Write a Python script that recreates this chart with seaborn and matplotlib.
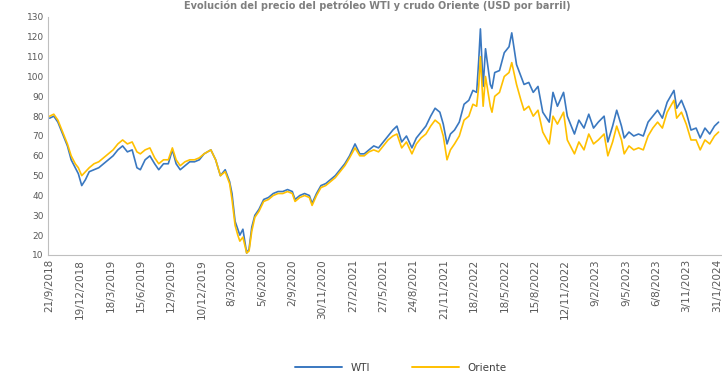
import matplotlib
matplotlib.use("Agg")
import matplotlib.pyplot as plt
import seaborn as sns
import pandas as pd

dates = [
    "2018-09-21", "2018-10-03", "2018-10-15", "2018-10-29", "2018-11-12", "2018-11-23",
    "2018-12-05", "2018-12-14", "2018-12-24", "2019-01-04", "2019-01-15", "2019-01-29",
    "2019-02-12", "2019-02-26", "2019-03-12", "2019-03-26", "2019-04-09", "2019-04-23",
    "2019-05-07", "2019-05-21", "2019-06-04", "2019-06-14", "2019-06-28", "2019-07-12",
    "2019-07-26", "2019-08-07", "2019-08-21", "2019-09-04", "2019-09-16", "2019-09-27",
    "2019-10-09", "2019-10-23", "2019-11-06", "2019-11-20", "2019-12-04", "2019-12-18",
    "2020-01-07", "2020-01-21", "2020-02-04", "2020-02-18", "2020-03-02", "2020-03-09",
    "2020-03-18", "2020-03-26", "2020-04-01", "2020-04-10", "2020-04-21", "2020-04-28",
    "2020-05-06", "2020-05-15", "2020-05-27", "2020-06-10", "2020-06-24", "2020-07-08",
    "2020-07-22", "2020-08-05", "2020-08-19", "2020-09-02", "2020-09-10", "2020-09-24",
    "2020-10-08", "2020-10-22", "2020-10-30", "2020-11-12", "2020-11-25", "2020-12-09",
    "2020-12-23", "2021-01-06", "2021-01-20", "2021-02-03", "2021-02-17", "2021-03-05",
    "2021-03-19", "2021-04-01", "2021-04-15", "2021-04-29", "2021-05-13", "2021-05-27",
    "2021-06-10", "2021-06-24", "2021-07-06", "2021-07-20", "2021-08-03", "2021-08-19",
    "2021-09-01", "2021-09-15", "2021-09-29", "2021-10-13", "2021-10-26", "2021-11-09",
    "2021-11-19", "2021-11-30", "2021-12-10", "2021-12-22", "2022-01-05", "2022-01-19",
    "2022-02-02", "2022-02-14", "2022-02-25", "2022-03-03", "2022-03-08", "2022-03-16",
    "2022-03-23", "2022-04-06", "2022-04-11", "2022-04-19", "2022-05-03", "2022-05-17",
    "2022-05-31", "2022-06-08", "2022-06-22", "2022-07-05", "2022-07-14", "2022-07-28",
    "2022-08-10", "2022-08-24", "2022-09-07", "2022-09-26", "2022-10-07", "2022-10-20",
    "2022-11-07", "2022-11-18", "2022-12-09", "2022-12-22", "2023-01-06", "2023-01-20",
    "2023-02-03", "2023-02-17", "2023-03-06", "2023-03-17", "2023-03-31", "2023-04-12",
    "2023-04-26", "2023-05-04", "2023-05-18", "2023-06-01", "2023-06-15", "2023-06-29",
    "2023-07-13", "2023-07-27", "2023-08-10", "2023-08-24", "2023-09-07", "2023-09-27",
    "2023-10-05", "2023-10-19", "2023-11-02", "2023-11-16", "2023-12-01", "2023-12-13",
    "2023-12-27", "2024-01-10", "2024-01-24", "2024-02-05",
]

wti = [
    79, 80, 77, 71, 65, 58,
    54, 51, 45, 48, 52, 53,
    54, 56, 58, 60, 63, 65,
    62, 63, 54, 53, 58, 60,
    56, 53, 56, 56, 63, 56,
    53, 55, 57, 57, 58, 61,
    63, 58, 50, 53, 47, 41,
    27, 23, 20, 23, 11, 13,
    24, 30, 33, 38, 39, 41,
    42, 42, 43, 42, 38, 40,
    41, 40, 36, 41, 45, 46,
    48, 50, 53, 56, 60, 66,
    61, 61, 63, 65, 64, 67,
    70, 73, 75, 67, 70, 64,
    69, 72, 75, 80, 84, 82,
    76, 66, 71, 73, 77, 86,
    88, 93, 92, 108, 124, 95,
    114, 96, 94, 102, 103, 112,
    115, 122, 106, 100, 96, 97,
    92, 95, 82, 77, 92, 85,
    92, 80, 71, 78, 74, 81,
    74, 77, 80, 67, 75, 83,
    75, 69, 72, 70, 71, 70,
    77, 80, 83, 79, 87, 93,
    84, 88, 82, 73, 74, 69,
    74, 71, 75, 77,
]

oriente = [
    80, 81, 78, 72, 66, 60,
    56, 54, 50, 52, 54, 56,
    57, 59, 61, 63, 66, 68,
    66, 67, 62, 61, 63, 64,
    59, 56, 58, 58, 64, 58,
    55, 57, 58, 58, 59, 61,
    63, 58, 50, 52, 46, 38,
    25, 20, 17, 19, 11, 12,
    22, 29, 32, 37, 38, 40,
    41, 41, 42, 41, 37, 39,
    40, 39, 35, 40, 44, 45,
    47, 49, 52, 55, 59, 64,
    60, 60, 62, 63, 62, 65,
    68, 70, 71, 64, 67, 61,
    66, 69, 71, 75, 78, 76,
    70, 58, 63, 66, 70, 78,
    80, 86, 85, 95, 110, 85,
    100, 85, 82, 90, 92, 100,
    102, 107, 96, 88, 83, 85,
    80, 83, 72, 66, 80, 76,
    82, 68, 61, 67, 63, 71,
    66, 68, 71, 60, 67, 75,
    68, 61, 65, 63, 64, 63,
    70, 74, 77, 74, 82, 88,
    79, 82, 76, 68, 68, 63,
    68, 66, 70, 72,
]

series_names = ["WTI", "Oriente"]
series_colors = ["#3A78C0", "#FFC000"]
title_text = "Evolución del precio del petróleo WTI y crudo Oriente (USD por barril)"
y_ticks = [10, 20, 30, 40, 50, 60, 70, 80, 90, 100, 110, 120, 130]

df = pd.DataFrame({
    "fecha": pd.to_datetime(dates * 2),
    "precio": wti + oriente,
    "serie": [series_names[0]] * len(dates) + [series_names[1]] * len(dates),
})

sns.set_style("white")
plt.rcParams["font.family"] = ["DejaVu Sans"]

fig = plt.figure(figsize=(7.22, 3.78), dpi=100)
ax = fig.add_axes([48 / 722, 123 / 378, 1 - 48 / 722, 238 / 378])

sns.lineplot(data=df, x="fecha", y="precio", hue="serie", hue_order=series_names,
             palette=series_colors, linewidth=1.2, ax=ax, legend=False)

start = pd.Timestamp("2018-09-21")
ticks = [start + pd.Timedelta(days=89 * i) for i in range(23)]
ax.set_xticks(ticks)
ax.set_xticklabels([f"{t.day}/{t.month}/{t.year}" for t in ticks], rotation=90,
                   fontsize=7.5, color="#595959")
ax.set_xlim(start - pd.Timedelta(days=5), start + pd.Timedelta(days=1973))
ax.set_ylim(10, 130)
ax.set_yticks(y_ticks)
ax.set_yticklabels([str(v) for v in y_ticks], fontsize=6.5, color="#595959")
ax.set_xlabel("")
ax.set_ylabel("")
for s in ["top", "right"]:
    ax.spines[s].set_visible(False)
for s in ["left", "bottom"]:
    ax.spines[s].set_color("#BFBFBF")
    ax.spines[s].set_linewidth(0.8)
ax.tick_params(axis="both", length=0, pad=3)

handles = [plt.Line2D([], [], color=c, linewidth=1.4) for c in series_colors]
fig.legend(handles, series_names, loc="center", bbox_to_anchor=(0.555, 0.027), ncol=2,
           frameon=False, fontsize=7.5, handlelength=4.5, columnspacing=4,
           labelcolor="#404040")

fig.text(0.523, 0.999, title_text, ha="center", va="top", fontsize=7,
         color="#7F7F7F", fontweight="bold")

fig.savefig("out.png", dpi=100)
